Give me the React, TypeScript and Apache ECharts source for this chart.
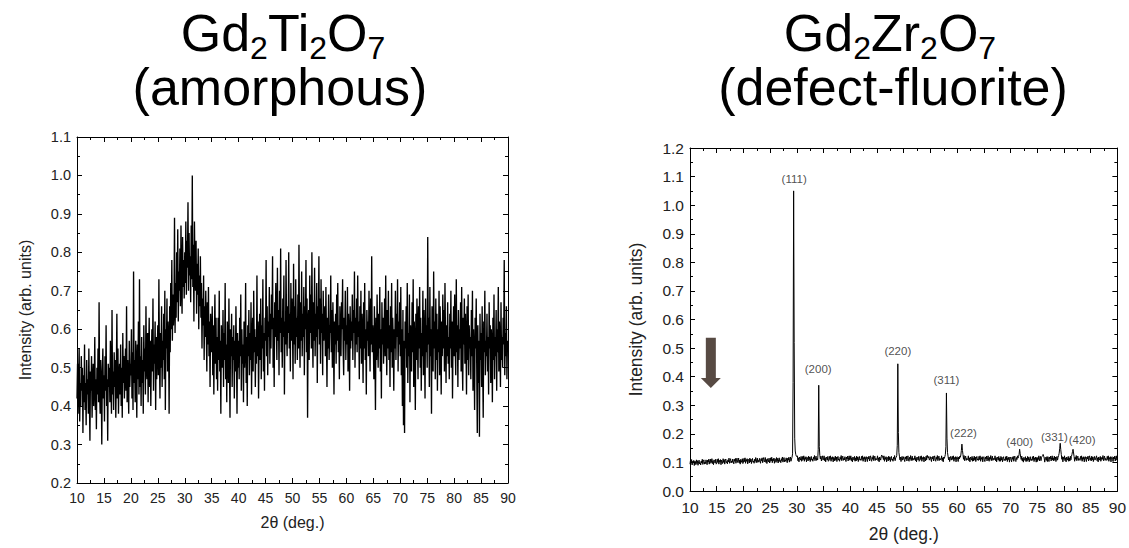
import React, { useEffect, useRef } from "react";
import * as echarts from "echarts";

// 2θ grid of both scans (degrees)
const twoThetaStart = 10;
const twoThetaStep = 0.1;

// Gd2Ti2O7 (amorphous) intensity, one row per degree (10.0 … 89.9), then 90.0
const amorphousIntensity = [
  0.42, 0.51, 0.38, 0.47, 0.55, 0.36, 0.46, 0.40, 0.53, 0.44,
  0.50, 0.33, 0.48, 0.41, 0.56, 0.39, 0.46, 0.35, 0.52, 0.43,
  0.47, 0.38, 0.55, 0.42, 0.31, 0.49, 0.44, 0.53, 0.37, 0.46,
  0.51, 0.40, 0.45, 0.58, 0.39, 0.47, 0.34, 0.50, 0.43, 0.55,
  0.41, 0.67, 0.44, 0.38, 0.52, 0.46, 0.30, 0.49, 0.55, 0.42,
  0.48, 0.36, 0.53, 0.44, 0.61, 0.40, 0.47, 0.31, 0.51, 0.45,
  0.50, 0.41, 0.57, 0.46, 0.38, 0.65, 0.43, 0.49, 0.39, 0.54,
  0.45, 0.52, 0.37, 0.48, 0.64, 0.42, 0.55, 0.38, 0.47, 0.51,
  0.43, 0.56, 0.40, 0.50, 0.37, 0.59, 0.46, 0.53, 0.42, 0.49,
  0.55, 0.44, 0.66, 0.41, 0.52, 0.47, 0.38, 0.57, 0.45, 0.51,
  0.48, 0.60, 0.42, 0.54, 0.39, 0.75, 0.46, 0.52, 0.41, 0.57,
  0.50, 0.37, 0.56, 0.47, 0.62, 0.43, 0.73, 0.45, 0.53, 0.40,
  0.58, 0.46, 0.52, 0.38, 0.61, 0.49, 0.55, 0.43, 0.66, 0.50,
  0.47, 0.59, 0.41, 0.54, 0.63, 0.45, 0.57, 0.40, 0.52, 0.60,
  0.49, 0.68, 0.44, 0.56, 0.51, 0.62, 0.39, 0.58, 0.47, 0.55,
  0.61, 0.48, 0.73, 0.53, 0.42, 0.59, 0.50, 0.66, 0.45, 0.57,
  0.52, 0.64, 0.47, 0.70, 0.39, 0.60, 0.55, 0.68, 0.49, 0.62,
  0.58, 0.38, 0.66, 0.54, 0.72, 0.60, 0.78, 0.57, 0.69, 0.61,
  0.65, 0.89, 0.59, 0.72, 0.63, 0.80, 0.67, 0.86, 0.62, 0.75,
  0.70, 0.81, 0.66, 0.87, 0.73, 0.64, 0.84, 0.71, 0.78, 0.68,
  0.80, 0.72, 0.88, 0.69, 0.83, 0.76, 0.93, 0.70, 0.85, 0.74,
  0.79, 0.67, 0.87, 0.73, 1.00, 0.71, 0.82, 0.62, 0.88, 0.75,
  0.70, 0.83, 0.64, 0.77, 0.69, 0.81, 0.60, 0.74, 0.66, 0.79,
  0.63, 0.72, 0.55, 0.68, 0.61, 0.74, 0.52, 0.66, 0.58, 0.70,
  0.60, 0.49, 0.67, 0.56, 0.71, 0.53, 0.62, 0.45, 0.64, 0.57,
  0.54, 0.66, 0.48, 0.61, 0.43, 0.58, 0.69, 0.51, 0.63, 0.47,
  0.58, 0.44, 0.63, 0.52, 0.70, 0.49, 0.57, 0.38, 0.61, 0.53,
  0.50, 0.65, 0.45, 0.59, 0.52, 0.72, 0.47, 0.56, 0.41, 0.62,
  0.55, 0.46, 0.68, 0.51, 0.37, 0.60, 0.53, 0.64, 0.45, 0.58,
  0.52, 0.61, 0.42, 0.57, 0.49, 0.66, 0.54, 0.38, 0.59, 0.50,
  0.57, 0.47, 0.63, 0.53, 0.69, 0.44, 0.60, 0.51, 0.56, 0.41,
  0.62, 0.50, 0.55, 0.72, 0.46, 0.58, 0.40, 0.61, 0.53, 0.65,
  0.48, 0.59, 0.52, 0.67, 0.43, 0.57, 0.63, 0.49, 0.70, 0.54,
  0.60, 0.45, 0.58, 0.51, 0.74, 0.53, 0.62, 0.42, 0.56, 0.64,
  0.52, 0.68, 0.47, 0.61, 0.55, 0.73, 0.49, 0.59, 0.44, 0.63,
  0.57, 0.78, 0.53, 0.66, 0.48, 0.62, 0.58, 0.71, 0.51, 0.64,
  0.55, 0.69, 0.60, 0.79, 0.50, 0.63, 0.45, 0.67, 0.58, 0.72,
  0.61, 0.52, 0.76, 0.57, 0.65, 0.48, 0.70, 0.59, 0.81, 0.54,
  0.63, 0.50, 0.68, 0.58, 0.74, 0.43, 0.62, 0.56, 0.78, 0.60,
  0.53, 0.66, 0.59, 0.80, 0.55, 0.64, 0.49, 0.72, 0.57, 0.68,
  0.60, 0.47, 0.77, 0.56, 0.66, 0.51, 0.73, 0.58, 0.63, 0.52,
  0.69, 0.55, 0.82, 0.61, 0.50, 0.67, 0.57, 0.75, 0.53, 0.64,
  0.58, 0.71, 0.48, 0.66, 0.60, 0.78, 0.54, 0.68, 0.37, 0.62,
  0.65, 0.52, 0.74, 0.59, 0.69, 0.55, 0.80, 0.61, 0.50, 0.67,
  0.57, 0.76, 0.53, 0.64, 0.58, 0.72, 0.46, 0.66, 0.60, 0.79,
  0.56, 0.68, 0.51, 0.73, 0.59, 0.64, 0.48, 0.70, 0.57, 0.62,
  0.66, 0.53, 0.71, 0.58, 0.45, 0.63, 0.55, 0.69, 0.52, 0.61,
  0.59, 0.74, 0.54, 0.65, 0.50, 0.67, 0.58, 0.43, 0.62, 0.56,
  0.64, 0.51, 0.69, 0.57, 0.72, 0.54, 0.61, 0.47, 0.66, 0.58,
  0.53, 0.67, 0.60, 0.73, 0.55, 0.48, 0.63, 0.57, 0.70, 0.52,
  0.61, 0.56, 0.71, 0.49, 0.64, 0.58, 0.44, 0.66, 0.55, 0.62,
  0.57, 0.69, 0.52, 0.65, 0.59, 0.75, 0.50, 0.63, 0.56, 0.68,
  0.54, 0.74, 0.58, 0.62, 0.47, 0.66, 0.55, 0.70, 0.51, 0.64,
  0.59, 0.46, 0.67, 0.55, 0.72, 0.52, 0.60, 0.43, 0.65, 0.57,
  0.62, 0.53, 0.70, 0.58, 0.49, 0.68, 0.56, 0.79, 0.54, 0.61,
  0.57, 0.47, 0.66, 0.55, 0.39, 0.63, 0.52, 0.69, 0.58, 0.50,
  0.64, 0.55, 0.71, 0.49, 0.60, 0.42, 0.67, 0.56, 0.63, 0.51,
  0.59, 0.68, 0.53, 0.74, 0.57, 0.48, 0.65, 0.55, 0.70, 0.52,
  0.61, 0.45, 0.66, 0.54, 0.72, 0.50, 0.63, 0.57, 0.44, 0.60,
  0.55, 0.70, 0.52, 0.64, 0.58, 0.73, 0.49, 0.62, 0.56, 0.67,
  0.53, 0.71, 0.48, 0.60, 0.40, 0.65, 0.35, 0.57, 0.33, 0.62,
  0.55, 0.66, 0.50, 0.72, 0.46, 0.59, 0.53, 0.69, 0.41, 0.61,
  0.57, 0.49, 0.67, 0.54, 0.73, 0.45, 0.62, 0.56, 0.39, 0.64,
  0.52, 0.68, 0.58, 0.47, 0.66, 0.55, 0.71, 0.50, 0.63, 0.44,
  0.59, 0.53, 0.70, 0.48, 0.65, 0.57, 0.42, 0.68, 0.54, 0.61,
  0.50, 0.84, 0.56, 0.63, 0.45, 0.71, 0.53, 0.60, 0.38, 0.66,
  0.57, 0.49, 0.75, 0.55, 0.62, 0.47, 0.68, 0.52, 0.64, 0.44,
  0.60, 0.54, 0.70, 0.48, 0.66, 0.57, 0.43, 0.62, 0.53, 0.69,
  0.55, 0.65, 0.49, 0.72, 0.58, 0.46, 0.61, 0.53, 0.67, 0.51,
  0.58, 0.47, 0.64, 0.55, 0.70, 0.50, 0.62, 0.42, 0.57, 0.66,
  0.53, 0.69, 0.56, 0.48, 0.73, 0.54, 0.61, 0.45, 0.65, 0.52,
  0.60, 0.55, 0.67, 0.49, 0.71, 0.53, 0.44, 0.63, 0.56, 0.68,
  0.51, 0.64, 0.57, 0.43, 0.66, 0.52, 0.69, 0.48, 0.61, 0.55,
  0.58, 0.47, 0.65, 0.53, 0.70, 0.44, 0.60, 0.54, 0.39, 0.63,
  0.55, 0.68, 0.50, 0.33, 0.61, 0.46, 0.57, 0.32, 0.64, 0.52,
  0.59, 0.45, 0.66, 0.51, 0.37, 0.62, 0.54, 0.70, 0.48, 0.57,
  0.53, 0.64, 0.49, 0.58, 0.43, 0.67, 0.55, 0.61, 0.46, 0.60,
  0.56, 0.41, 0.63, 0.52, 0.69, 0.47, 0.58, 0.53, 0.65, 0.44,
  0.60, 0.54, 0.71, 0.49, 0.62, 0.56, 0.45, 0.67, 0.52, 0.58,
  0.50, 0.63, 0.56, 0.78, 0.48, 0.59, 0.53, 0.66, 0.47, 0.57,
  0.55,
];

// Gd2Zr2O7 (defect-fluorite) intensity, one row per degree (10.0 … 89.9), then 90.0
const fluoriteIntensity = [
  0.094, 0.108, 0.097, 0.110, 0.091, 0.104, 0.098, 0.107, 0.089, 0.105,
  0.103, 0.092, 0.109, 0.096, 0.106, 0.090, 0.102, 0.108, 0.095, 0.099,
  0.091, 0.105, 0.098, 0.111, 0.093, 0.103, 0.109, 0.094, 0.101, 0.096,
  0.109, 0.099, 0.092, 0.108, 0.101, 0.111, 0.094, 0.106, 0.112, 0.097,
  0.101, 0.113, 0.096, 0.106, 0.092, 0.109, 0.104, 0.098, 0.111, 0.094,
  0.097, 0.111, 0.100, 0.113, 0.094, 0.107, 0.101, 0.110, 0.092, 0.108,
  0.107, 0.096, 0.113, 0.100, 0.110, 0.094, 0.106, 0.112, 0.099, 0.103,
  0.095, 0.109, 0.102, 0.115, 0.097, 0.107, 0.113, 0.098, 0.105, 0.100,
  0.112, 0.102, 0.095, 0.111, 0.104, 0.114, 0.097, 0.109, 0.115, 0.100,
  0.103, 0.115, 0.098, 0.108, 0.094, 0.111, 0.106, 0.100, 0.113, 0.096,
  0.100, 0.114, 0.103, 0.116, 0.097, 0.110, 0.104, 0.113, 0.095, 0.111,
  0.109, 0.098, 0.115, 0.102, 0.112, 0.096, 0.108, 0.114, 0.101, 0.105,
  0.097, 0.111, 0.104, 0.117, 0.099, 0.109, 0.115, 0.100, 0.107, 0.102,
  0.114, 0.104, 0.097, 0.113, 0.106, 0.116, 0.099, 0.111, 0.117, 0.102,
  0.105, 0.117, 0.100, 0.110, 0.096, 0.113, 0.108, 0.102, 0.115, 0.098,
  0.102, 0.116, 0.105, 0.118, 0.099, 0.112, 0.106, 0.115, 0.097, 0.113,
  0.111, 0.100, 0.117, 0.104, 0.114, 0.098, 0.110, 0.116, 0.103, 0.107,
  0.099, 0.113, 0.106, 0.119, 0.101, 0.111, 0.117, 0.102, 0.109, 0.104,
  0.116, 0.106, 0.099, 0.115, 0.108, 0.118, 0.101, 0.113, 0.119, 0.104,
  0.112, 0.118, 0.130, 0.380, 1.050, 0.520, 0.185, 0.140, 0.128, 0.122,
  0.120, 0.123, 0.106, 0.116, 0.102, 0.119, 0.114, 0.108, 0.121, 0.104,
  0.107, 0.121, 0.110, 0.123, 0.104, 0.117, 0.111, 0.120, 0.102, 0.118,
  0.116, 0.105, 0.122, 0.109, 0.119, 0.103, 0.115, 0.121, 0.108, 0.112,
  0.104, 0.118, 0.111, 0.124, 0.106, 0.116, 0.122, 0.107, 0.114, 0.109,
  0.145, 0.370, 0.155, 0.125, 0.112, 0.122, 0.105, 0.117, 0.123, 0.108,
  0.111, 0.123, 0.106, 0.116, 0.102, 0.119, 0.114, 0.108, 0.121, 0.104,
  0.107, 0.121, 0.110, 0.123, 0.104, 0.117, 0.111, 0.120, 0.102, 0.118,
  0.116, 0.105, 0.122, 0.109, 0.119, 0.103, 0.115, 0.121, 0.108, 0.112,
  0.104, 0.118, 0.111, 0.124, 0.106, 0.116, 0.122, 0.107, 0.114, 0.109,
  0.120, 0.110, 0.103, 0.119, 0.112, 0.122, 0.105, 0.117, 0.123, 0.108,
  0.111, 0.123, 0.106, 0.116, 0.102, 0.119, 0.114, 0.108, 0.121, 0.104,
  0.116, 0.105, 0.122, 0.109, 0.119, 0.103, 0.115, 0.121, 0.108, 0.112,
  0.107, 0.121, 0.110, 0.123, 0.104, 0.117, 0.111, 0.120, 0.102, 0.118,
  0.120, 0.110, 0.103, 0.119, 0.112, 0.122, 0.105, 0.117, 0.123, 0.108,
  0.104, 0.118, 0.111, 0.124, 0.106, 0.116, 0.122, 0.107, 0.114, 0.109,
  0.111, 0.123, 0.106, 0.116, 0.102, 0.119, 0.114, 0.108, 0.121, 0.126,
  0.118, 0.121, 0.110, 0.123, 0.104, 0.117, 0.111, 0.120, 0.102, 0.118,
  0.116, 0.105, 0.122, 0.109, 0.119, 0.103, 0.115, 0.121, 0.108, 0.112,
  0.104, 0.118, 0.111, 0.124, 0.106, 0.116, 0.118, 0.124, 0.160, 0.445,
  0.205, 0.135, 0.122, 0.109, 0.119, 0.103, 0.115, 0.121, 0.108, 0.112,
  0.120, 0.110, 0.103, 0.119, 0.112, 0.122, 0.105, 0.117, 0.123, 0.108,
  0.104, 0.118, 0.111, 0.124, 0.106, 0.116, 0.122, 0.107, 0.114, 0.109,
  0.111, 0.123, 0.106, 0.116, 0.102, 0.119, 0.114, 0.108, 0.121, 0.104,
  0.107, 0.121, 0.110, 0.123, 0.104, 0.117, 0.111, 0.120, 0.102, 0.118,
  0.116, 0.105, 0.122, 0.109, 0.125, 0.118, 0.115, 0.121, 0.108, 0.112,
  0.120, 0.110, 0.103, 0.119, 0.112, 0.122, 0.105, 0.117, 0.123, 0.108,
  0.104, 0.118, 0.111, 0.124, 0.106, 0.116, 0.122, 0.107, 0.114, 0.109,
  0.111, 0.123, 0.106, 0.116, 0.102, 0.119, 0.114, 0.120, 0.128, 0.155,
  0.343, 0.185, 0.135, 0.122, 0.109, 0.119, 0.103, 0.115, 0.121, 0.108,
  0.107, 0.121, 0.110, 0.123, 0.104, 0.117, 0.111, 0.120, 0.102, 0.118,
  0.120, 0.110, 0.103, 0.119, 0.112, 0.122, 0.118, 0.126, 0.142, 0.164,
  0.142, 0.127, 0.111, 0.124, 0.106, 0.116, 0.122, 0.107, 0.114, 0.109,
  0.111, 0.123, 0.106, 0.116, 0.102, 0.119, 0.114, 0.108, 0.121, 0.104,
  0.116, 0.105, 0.122, 0.109, 0.119, 0.103, 0.115, 0.121, 0.108, 0.112,
  0.107, 0.121, 0.110, 0.123, 0.104, 0.117, 0.111, 0.120, 0.102, 0.118,
  0.120, 0.110, 0.103, 0.119, 0.112, 0.122, 0.105, 0.117, 0.123, 0.108,
  0.104, 0.118, 0.111, 0.124, 0.106, 0.116, 0.122, 0.107, 0.114, 0.109,
  0.111, 0.123, 0.106, 0.116, 0.102, 0.119, 0.114, 0.108, 0.121, 0.104,
  0.115, 0.104, 0.121, 0.108, 0.118, 0.102, 0.114, 0.120, 0.107, 0.111,
  0.106, 0.120, 0.109, 0.122, 0.103, 0.116, 0.110, 0.119, 0.101, 0.117,
  0.119, 0.109, 0.102, 0.118, 0.111, 0.121, 0.104, 0.116, 0.122, 0.107,
  0.103, 0.117, 0.110, 0.123, 0.115, 0.121, 0.128, 0.146, 0.132, 0.118,
  0.110, 0.122, 0.105, 0.115, 0.101, 0.118, 0.113, 0.107, 0.120, 0.103,
  0.115, 0.104, 0.121, 0.108, 0.118, 0.102, 0.114, 0.120, 0.107, 0.111,
  0.106, 0.120, 0.109, 0.122, 0.103, 0.116, 0.110, 0.119, 0.101, 0.117,
  0.103, 0.117, 0.110, 0.123, 0.105, 0.115, 0.121, 0.106, 0.118, 0.121,
  0.124, 0.128, 0.122, 0.115, 0.101, 0.118, 0.113, 0.107, 0.120, 0.103,
  0.120, 0.110, 0.103, 0.119, 0.112, 0.122, 0.105, 0.117, 0.123, 0.108,
  0.116, 0.105, 0.122, 0.109, 0.119, 0.103, 0.115, 0.121, 0.108, 0.118,
  0.124, 0.132, 0.148, 0.167, 0.145, 0.128, 0.111, 0.120, 0.102, 0.118,
  0.111, 0.123, 0.106, 0.116, 0.102, 0.119, 0.114, 0.108, 0.121, 0.104,
  0.116, 0.105, 0.122, 0.109, 0.121, 0.128, 0.138, 0.146, 0.133, 0.120,
  0.104, 0.118, 0.111, 0.124, 0.106, 0.116, 0.122, 0.107, 0.114, 0.109,
  0.107, 0.121, 0.110, 0.123, 0.104, 0.117, 0.111, 0.120, 0.102, 0.118,
  0.120, 0.110, 0.103, 0.119, 0.112, 0.122, 0.105, 0.117, 0.123, 0.108,
  0.116, 0.105, 0.122, 0.109, 0.119, 0.103, 0.115, 0.121, 0.108, 0.112,
  0.111, 0.123, 0.106, 0.116, 0.102, 0.119, 0.114, 0.108, 0.121, 0.104,
  0.104, 0.118, 0.111, 0.124, 0.106, 0.116, 0.122, 0.107, 0.114, 0.109,
  0.107, 0.121, 0.110, 0.123, 0.104, 0.117, 0.111, 0.120, 0.102, 0.118,
  0.120, 0.110, 0.103, 0.119, 0.112, 0.122, 0.105, 0.117, 0.123, 0.108,
  0.113,
];

// Miller-index labels of the fluorite reflections, placed at [2θ, intensity] of the label centre
const reflectionLabels = ["(111)", "(200)", "(220)", "(311)", "(222)", "(400)", "(331)", "(420)"];
const reflectionLabelAngles = [29.5, 34.0, 48.9, 58.0, 61.2, 71.7, 78.2, 83.4];
const reflectionLabelHeights = [1.092, 0.426, 0.489, 0.388, 0.204, 0.173, 0.19, 0.178];

// Down arrow in the right panel (data units)
const arrowAngle = 13.9;
const arrowTop = 0.536;
const arrowTip = 0.36;

const leftYRange = { min: 0.2, max: 1.1 };
const rightYRange = { min: 0.0, max: 1.2 };

const FONT = "'Liberation Sans', Arial, Helvetica, sans-serif";

function toPairs(values: number[]) {
  return values.map((v, i) => [+(twoThetaStart + i * twoThetaStep).toFixed(2), v]);
}

export default function App() {
  const ref = useRef<HTMLDivElement>(null);

  useEffect(() => {
    if (!ref.current) return;
    const chart = echarts.init(ref.current, null, { renderer: "svg" });

    const axisLine = { show: true, onZero: false, lineStyle: { color: "#000", width: 1 } };
    const tick = (len: number) => ({ show: true, inside: true, length: len, lineStyle: { color: "#000", width: 1 } });
    const minor = (len: number) => ({ show: true, splitNumber: 2, length: len, lineStyle: { color: "#000", width: 1 } });

    const makeX = (grid: number, fs: number, nameFs: number, nameGap: number, margin: number) => [
      {
        type: "value", gridIndex: grid, position: "bottom", min: 10, max: 90, interval: 5,
        axisLine, axisTick: tick(5), minorTick: minor(3), splitLine: { show: false },
        axisLabel: { color: "#222", fontFamily: FONT, fontSize: fs, margin },
        name: "2θ (deg.)", nameLocation: "middle", nameGap,
        nameTextStyle: { color: "#222", fontFamily: FONT, fontSize: nameFs },
      },
      {
        type: "value", gridIndex: grid, position: "top", min: 10, max: 90, interval: 5,
        axisLine, axisTick: tick(5), minorTick: minor(3), splitLine: { show: false },
        axisLabel: { show: false },
      },
    ];
    const makeY = (grid: number, rng: { min: number; max: number }, fs: number, nameFs: number, nameGap: number) => [
      {
        type: "value", gridIndex: grid, position: "left", min: rng.min, max: rng.max, interval: 0.1,
        axisLine, axisTick: tick(5), minorTick: minor(3), splitLine: { show: false },
        axisLabel: { color: "#222", fontFamily: FONT, fontSize: fs, margin: 6, formatter: (v: number) => v.toFixed(1) },
        name: "Intensity (arb. units)", nameLocation: "middle", nameGap,
        nameTextStyle: { color: "#222", fontFamily: FONT, fontSize: nameFs },
      },
      {
        type: "value", gridIndex: grid, position: "right", min: rng.min, max: rng.max, interval: 0.1,
        axisLine, axisTick: tick(5), minorTick: minor(3), splitLine: { show: false },
        axisLabel: { show: false },
      },
    ];

    chart.setOption({
      animation: false,
      backgroundColor: "#fff",
      grid: [
        { left: 77, top: 137, width: 431, height: 346 },
        { left: 690, top: 148, width: 431, height: 346 },
      ],
      xAxis: [...makeX(0, 14, 16, 31, 8), ...makeX(1, 15.5, 17.5, 34, 8)],
      yAxis: [...makeY(0, leftYRange, 14.5, 16, 44), ...makeY(1, rightYRange, 15.5, 17.5, 45)],
      series: [
        {
          type: "line", xAxisIndex: 0, yAxisIndex: 0, data: toPairs(amorphousIntensity),
          showSymbol: false, symbol: "none",
          lineStyle: { color: "#000", width: 1.35 }, silent: true,
        },
        {
          type: "line", xAxisIndex: 2, yAxisIndex: 2, data: toPairs(fluoriteIntensity),
          showSymbol: false, symbol: "none",
          lineStyle: { color: "#000", width: 1 }, silent: true,
        },
        {
          type: "scatter", xAxisIndex: 2, yAxisIndex: 2, symbolSize: 0, silent: true,
          itemStyle: { color: "#222" },
          data: reflectionLabels.map((n, i) => ({ name: n, value: [reflectionLabelAngles[i], reflectionLabelHeights[i]] })),
          label: {
            show: true, position: "inside", formatter: (p: any) => p.name,
            color: "#222", textBorderWidth: 0, textBorderColor: "transparent",
            fontFamily: FONT, fontSize: 11.5,
          },
        },
      ],
    });

    const top = chart.convertToPixel({ gridIndex: 1 }, [arrowAngle, arrowTop]) as number[];
    const tip = chart.convertToPixel({ gridIndex: 1 }, [arrowAngle, arrowTip]) as number[];
    const cx = top[0];
    const headTop = tip[1] - 10;

    const titleLine1 = (x: number, el: string) => ({
      type: "text", x, y: 7, silent: true,
      style: {
        text: `{m|Gd}{s|2}{m|${el}}{s|2}{m|O}{s|7}`,
        align: "center", verticalAlign: "top", fill: "#000",
        rich: {
          m: { fontFamily: FONT, fontSize: 52, lineHeight: 40, verticalAlign: "top", fill: "#000", color: "#000" },
          s: { fontFamily: FONT, fontSize: 32, lineHeight: 24, padding: [25, 0, 0, 0], verticalAlign: "top", fill: "#000", color: "#000" },
        },
      },
    });
    const titleLine2 = (x: number, text: string) => ({
      type: "text", x, y: 67, silent: true,
      style: { text, align: "center", verticalAlign: "top", lineHeight: 40, fontFamily: FONT, fontSize: 52, fill: "#000" },
    });

    chart.setOption({
      graphic: [
        titleLine1(283, "Ti"),
        titleLine2(280, "(amorphous)"),
        titleLine1(890, "Zr"),
        titleLine2(893, "(defect-fluorite)"),
        {
          type: "polygon", silent: true,
          shape: {
            points: [
              [cx - 5, top[1]], [cx + 5, top[1]], [cx + 5, headTop], [cx + 10, headTop],
              [cx, tip[1]], [cx - 10, headTop], [cx - 5, headTop],
            ],
          },
          style: { fill: "#574a43" },
        },
      ],
    });

    return () => chart.dispose();
  }, []);

  return <div ref={ref} style={{ position: "fixed", left: 0, top: 0, width: 1129, height: 548 }} />;
}
